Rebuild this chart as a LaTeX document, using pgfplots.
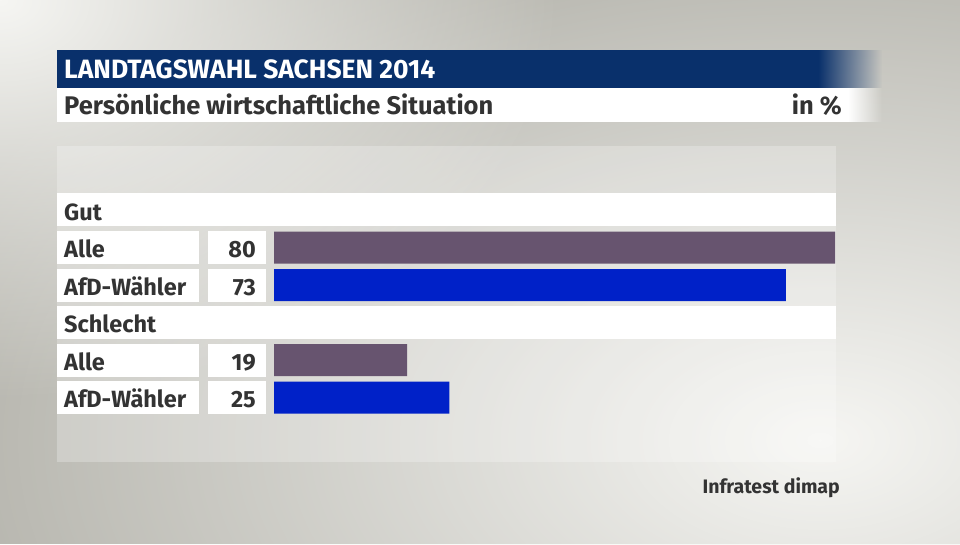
\documentclass[border=0pt]{standalone}
\usepackage{fontspec}
\setmainfont{Fira Sans}
\usepackage{pgfplots}
\pgfplotsset{compat=1.18}
\usetikzlibrary{fadings}
\definecolor{bgbase}{HTML}{B1B0A8}
\definecolor{bglight}{HTML}{F6F6F3}
\definecolor{titleblue}{HTML}{09306B}
\definecolor{alle}{HTML}{67546F}
\definecolor{afd}{HTML}{0021C8}
\definecolor{txt}{HTML}{333333}
\tikzfading[name=glow, inner color=transparent!0, outer color=transparent!100]
\begin{document}
\begin{tikzpicture}[x=1pt,y=-1pt]
\begin{scope}
\clip (0,0) rectangle (960,544);
\fill[bgbase] (0,0) rectangle (960,544);
\fill[bglight, path fading=glow] (820,440) ellipse [x radius=950pt, y radius=560pt];
\fill[bglight, path fading=glow] (0,0) ellipse [x radius=560pt, y radius=400pt];
\end{scope}
% panel
\fill[white, opacity=0.25] (57,146) rectangle (836,462);
% title bars
\fill[titleblue] (57,50) rectangle (818,88);
\fill[titleblue, path fading=east] (818,50) rectangle (882,88);
\fill[white] (57,88) rectangle (848,122);
\fill[white, path fading=east] (848,88) rectangle (882,122);
\node[anchor=base west, inner sep=0, text=white, font=\bfseries\fontsize{26.5}{26.5}\selectfont] at (64,78) {LANDTAGSWAHL SACHSEN 2014};
\node[anchor=base west, inner sep=0, text=txt, font=\bfseries\fontsize{25.5}{25.5}\selectfont] at (64,114) {Persönliche wirtschaftliche Situation};
\node[anchor=base east, inner sep=0, text=txt, font=\bfseries\fontsize{25.5}{25.5}\selectfont] at (842,114) {in \%};
% row boxes
\fill[white] (57,193) rectangle (836,226);
\fill[white] (57,306) rectangle (836,339);
\foreach \t in {231,268.5,343.5,381}{
  \fill[white] (57,\t) rectangle (199,\t+33);
  \fill[white] (208,\t) rectangle (266,\t+33);
}
\begin{axis}[at={(0,544)}, anchor=south west, width=960pt, height=544pt,
  scale only axis, xmin=-39.073, xmax=97.825, ymin=0, ymax=544, y dir=reverse,
  hide axis, clip=false]
\addplot[xbar, bar shift=0pt, bar width=32, fill=alle, draw=none] coordinates {(80,247.5) (19,360)};
\addplot[xbar, bar shift=0pt, bar width=32, fill=afd, draw=none] coordinates {(73,285) (25,397.5)};
\end{axis}
\begin{scope}[every node/.style={inner sep=0, text=txt, font=\bfseries\fontsize{23.5}{23.5}\selectfont}]
\node[anchor=base west] at (64,220.5) {Gut};
\node[anchor=base west] at (64,257.5) {Alle};
\node[anchor=base west] at (64,295) {AfD-Wähler};
\node[anchor=base west] at (64,332.5) {Schlecht};
\node[anchor=base west] at (64,370) {Alle};
\node[anchor=base west] at (64,407.5) {AfD-Wähler};
\node[anchor=base east] at (256,257.5) {80};
\node[anchor=base east] at (256,295) {73};
\node[anchor=base east] at (256,370) {19};
\node[anchor=base east] at (256,407.5) {25};
\node[anchor=base east, font=\bfseries\fontsize{19.5}{19.5}\selectfont] at (840,493) {Infratest dimap};
\end{scope}
\end{tikzpicture}
\end{document}
